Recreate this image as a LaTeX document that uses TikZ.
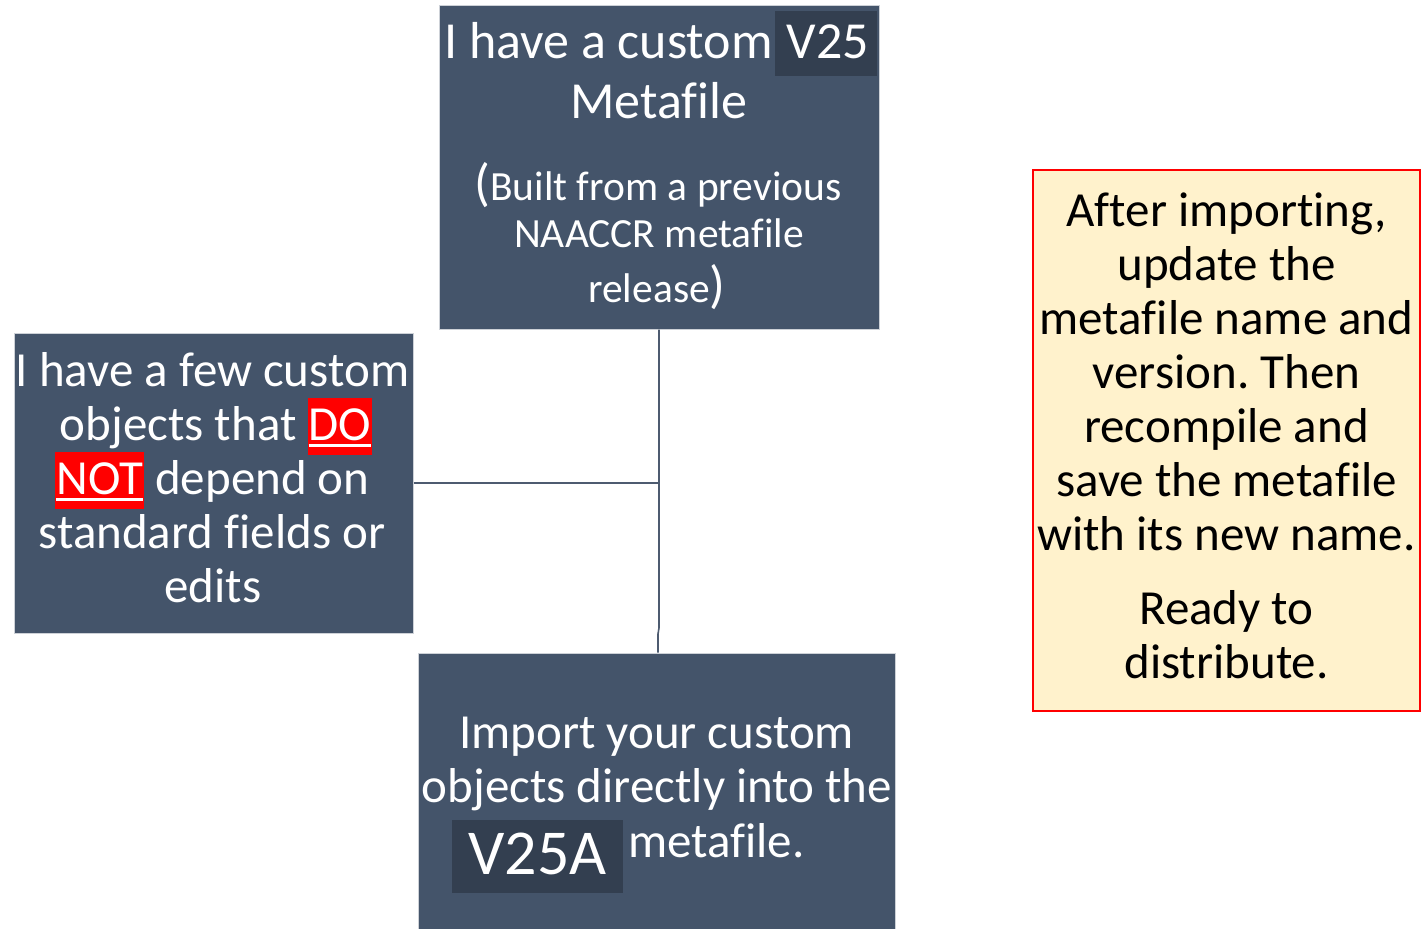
\documentclass[tikz,border=0pt]{standalone}
\usepackage{fontspec}
\setmainfont{Carlito}[Ligatures={NoCommon}]
\frenchspacing
\definecolor{boxblue}{HTML}{44546A}
\definecolor{hldark}{HTML}{333F50}
\definecolor{boxedge}{HTML}{CDD1D7}
\definecolor{notefill}{HTML}{FFF2CC}
\definecolor{noteedge}{HTML}{FF0000}
\definecolor{connc}{HTML}{4D5B70}
\newcommand\fmain{\fontsize{49}{54}\selectfont}
\newcommand\fbig{\fontsize{52}{60}\selectfont}
\newcommand\fsmall{\fontsize{41.5}{47}\selectfont}
\newcommand\fhuge{\fontsize{64}{70}\selectfont}
\newcommand\redhl[1]{\begingroup\setlength\fboxsep{0pt}\colorbox{red}{\rule[-15pt]{0pt}{57pt}\hspace{1pt}\sbox0{#1}\rlap{\rule[-7pt]{\wd0}{3pt}}\usebox0\hspace{1pt}}\endgroup}
\tikzset{
  box/.style={draw=boxedge, line width=1pt, fill=boxblue, inner sep=0pt},
  note/.style={draw=noteedge, line width=1.5pt, fill=notefill, inner sep=0pt},
  hlbox/.style={fill=hldark, inner sep=0pt},
  wtxt/.style={text=white, inner sep=0pt, anchor=base, font=\fmain},
  btxt/.style={text=black, inner sep=0pt, anchor=base, font=\fmain},
  conn/.style={draw=connc, line width=1.6pt},
}
\begin{document}
\begin{tikzpicture}[x=1pt,y=-1pt]
\fill[white] (0,0) rectangle (1422,929);
\useasboundingbox (0,0) rectangle (1422,929);
% boxes
\node[box, minimum width=440pt, minimum height=324pt] (top) at (659,167) {};
\node[box, minimum width=399pt, minimum height=300pt] (left) at (213.5,483) {};
\node[box, minimum width=477pt, minimum height=290pt] (bot) at (656.5,798) {};
\node[note, minimum width=387pt, minimum height=541pt] (right) at (1226.5,440.5) {};
% connectors
\coordinate (j1) at (659,628);
\coordinate (j2) at (658,634);
\draw[conn] (top.south) -- (j1) -- (j2) -- (j2 |- bot.north);
\draw[conn] (left.east) -- (left.east -| top.south);
% top box text
\node[hlbox, minimum width=102pt, minimum height=65pt] (v25bg) at (826,43.5) {};
\node[wtxt, font=\fbig, anchor=base east] (t1) at (773,58) {I have a custom};
\node[wtxt, font=\fbig] (t1v) at (828,58) {V25};
\node[wtxt, font=\fbig] (t2) at (659,118) {Metafile};
\node[wtxt, font=\fsmall] (t3) at (658,200) {{\fbig(}Built from a previous};
\node[wtxt, font=\fsmall] (t4) at (659,247) {NAACCR metafile};
\node[wtxt, font=\fsmall] (t5) at (657,302) {release{\fbig)}};
% left box text
\node[wtxt] (l1) at (212.5,386) {I have a few custom};
\node[wtxt] (l2) at (216,440) {objects that \redhl{DO}};
\node[wtxt] (l3) at (212.5,494) {\redhl{NOT} depend on};
\node[wtxt] (l4) at (212,548) {standard fields or};
\node[wtxt] (l5) at (213,602) {edits};
% bottom box text
\node[wtxt] (b1) at (656.5,748) {Import your custom};
\node[wtxt] (b2) at (657,802) {objects directly into the};
\node[hlbox, minimum width=171pt, minimum height=73pt] (v25abg) at (537.5,856.5) {};
\node[wtxt, font=\fhuge] (b3v) at (537.5,874) {V25A};
\node[wtxt, anchor=base west] (b3) at (628,857) {metafile.};
% right note text
\node[btxt] (r1) at (1226.5,226) {After importing,};
\node[btxt] (r2) at (1226.5,280) {update the};
\node[btxt] (r3) at (1226.5,334) {metafile name and};
\node[btxt] (r4) at (1226.5,388) {version. Then};
\node[btxt] (r5) at (1226.5,442) {recompile and};
\node[btxt] (r6) at (1226.5,496) {save the metafile};
\node[btxt] (r7) at (1226.5,550) {with its new name.};
\node[btxt] (r8) at (1226.5,624) {Ready to};
\node[btxt] (r9) at (1226.5,678) {distribute.};
\end{tikzpicture}
\end{document}
